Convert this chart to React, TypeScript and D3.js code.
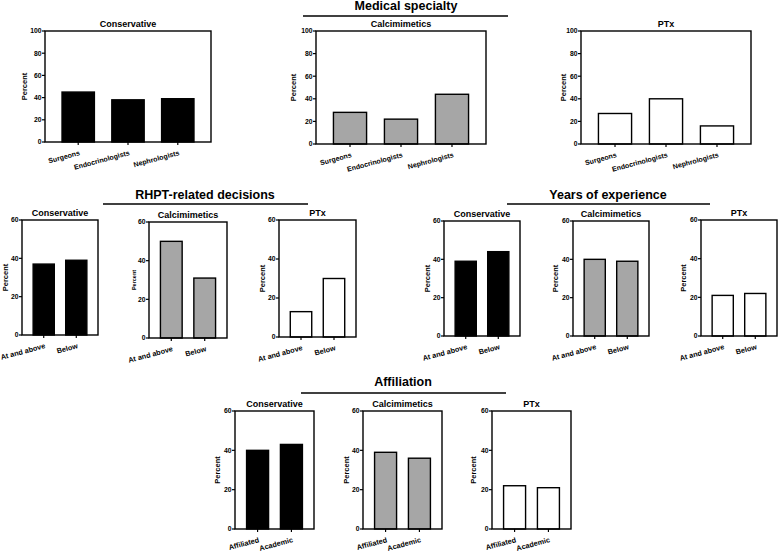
import React from "react";
import * as d3 from "d3";

// ---- data ----
const specialtyCats = ["Surgeons", "Endocrinologists", "Nephrologists"];
const specConservative = [45, 38, 39];
const specCalcimimetics = [28, 22, 44];
const specPTx = [27, 40, 16];

const rhptCats = ["At and above", "Below"];
const rhptConservative = [37, 39];
const rhptCalcimimetics = [50, 31];
const rhptPTx = [13, 30];

const yearsCats = ["At and above", "Below"];
const yearsConservative = [39, 44];
const yearsCalcimimetics = [40, 39];
const yearsPTx = [21, 22];

const affCats = ["Affiliated", "Academic"];
const affConservative = [40, 43];
const affCalcimimetics = [39, 36];
const affPTx = [22, 21];

const ticks100 = [0, 20, 40, 60, 80, 100];
const ticks60 = [0, 20, 40, 60];

const FONT = "'Liberation Sans', Arial, Helvetica, sans-serif";
const GREY = "#a6a6a6";

type Panel = {
  title: string;
  cats: string[];
  values: number[];
  fill: string;
  x0: number;
  x1: number;
  y0: number;
  y1: number;
  ticks: number[];
  percentDx: number;
  percentSize?: number;
  labelSize?: number;
};

const panels: Panel[] = [
  { title: "Conservative", cats: specialtyCats, values: specConservative, fill: "#000", x0: 45, x1: 211, y0: 31, y1: 142, ticks: ticks100, percentDx: -21 },
  { title: "Calcimimetics", cats: specialtyCats, values: specCalcimimetics, fill: GREY, x0: 316, x1: 486, y0: 31, y1: 144, ticks: ticks100, percentDx: -23 },
  { title: "PTx", cats: specialtyCats, values: specPTx, fill: "#fff", x0: 581, x1: 751, y0: 31, y1: 144, ticks: ticks100, percentDx: -18 },

  { title: "Conservative", cats: rhptCats, values: rhptConservative, fill: "#000", x0: 22, x1: 98, y0: 220, y1: 335, ticks: ticks60, percentDx: -17, labelSize: 7.3 },
  { title: "Calcimimetics", cats: rhptCats, values: rhptCalcimimetics, fill: GREY, x0: 149, x1: 227, y0: 222, y1: 338, ticks: ticks60, percentDx: -16, percentSize: 5.5, labelSize: 7.3 },
  { title: "PTx", cats: rhptCats, values: rhptPTx, fill: "#fff", x0: 279, x1: 356, y0: 220, y1: 337, ticks: ticks60, percentDx: -17, labelSize: 7.3 },

  { title: "Conservative", cats: yearsCats, values: yearsConservative, fill: "#000", x0: 444, x1: 520, y0: 221, y1: 336, ticks: ticks60, percentDx: -17, labelSize: 7.3 },
  { title: "Calcimimetics", cats: yearsCats, values: yearsCalcimimetics, fill: GREY, x0: 573, x1: 649, y0: 221, y1: 336, ticks: ticks60, percentDx: -18, labelSize: 7.3 },
  { title: "PTx", cats: yearsCats, values: yearsPTx, fill: "#fff", x0: 701, x1: 777, y0: 220, y1: 336, ticks: ticks60, percentDx: -18, labelSize: 7.3 },

  { title: "Conservative", cats: affCats, values: affConservative, fill: "#000", x0: 235, x1: 314, y0: 411, y1: 529, ticks: ticks60, percentDx: -18, labelSize: 7.3 },
  { title: "Calcimimetics", cats: affCats, values: affCalcimimetics, fill: GREY, x0: 363, x1: 442, y0: 411, y1: 529, ticks: ticks60, percentDx: -17, labelSize: 7.3 },
  { title: "PTx", cats: affCats, values: affPTx, fill: "#fff", x0: 492, x1: 571, y0: 411, y1: 529, ticks: ticks60, percentDx: -19, labelSize: 7.3 },
];

const sections = [
  { title: "Medical specialty", cx: 406, ty: 10, lx0: 303, lx1: 508, ly: 16 },
  { title: "RHPT-related decisions", cx: 205, ty: 199, lx0: 103, lx1: 308, ly: 204 },
  { title: "Years of experience", cx: 608, ty: 199, lx0: 507, lx1: 710, ly: 204 },
  { title: "Affiliation", cx: 403, ty: 386, lx0: 301, lx1: 506, ly: 393 },
];

function BarPanel({ p }: { p: Panel }) {
  const x = d3.scalePoint<string>().domain(p.cats).range([p.x0, p.x1]).padding(0.667);
  const ymax = p.ticks[p.ticks.length - 1];
  const y = d3.scaleLinear().domain([0, ymax]).range([p.y1, p.y0]);
  const step = x.step();
  const bw = step * 0.65;
  const cy = (p.y0 + p.y1) / 2;
  return (
    <g>
      <text x={(p.x0 + p.x1) / 2} y={p.y0 - 4} textAnchor="middle" fontSize={9} fontWeight="bold" fill="#000">
        {p.title}
      </text>
      {p.cats.map((c, i) => {
        const top = y(p.values[i]);
        return (
          <rect
            key={c}
            x={(x(c) as number) - bw / 2}
            y={top}
            width={bw}
            height={p.y1 - top}
            fill={p.fill}
            stroke="#000"
            strokeWidth={1.4}
          />
        );
      })}
      <rect x={p.x0} y={p.y0} width={p.x1 - p.x0} height={p.y1 - p.y0} fill="none" stroke="#000" strokeWidth={1.4} />
      {p.ticks.map((t) => (
        <g key={t}>
          <line x1={p.x0 - 3} x2={p.x0} y1={y(t)} y2={y(t)} stroke="#000" strokeWidth={1.2} />
          <text x={p.x0 - 3.5} y={y(t) + 2.4} textAnchor="end" fontSize={6.8} fontWeight="bold" fill="#000">
            {t}
          </text>
        </g>
      ))}
      {p.cats.map((c) => {
        const cx = x(c) as number;
        return (
          <g key={c}>
            <line x1={cx} x2={cx} y1={p.y1} y2={p.y1 + 3} stroke="#000" strokeWidth={1.2} />
            <text
              transform={`translate(${cx + 2},${p.y1 + 13}) rotate(-15)`}
              textAnchor="end"
              fontSize={p.labelSize ?? 7}
              fontWeight="bold"
              fill="#000"
            >
              {c}
            </text>
          </g>
        );
      })}
      <text
        transform={`translate(${p.x0 + p.percentDx + 2.5},${cy}) rotate(-90)`}
        textAnchor="middle"
        fontSize={p.percentSize ?? 7.5}
        fontWeight="bold"
        fill="#000"
      >
        Percent
      </text>
    </g>
  );
}

export default function App() {
  return (
    <svg
      width={778}
      height={553}
      style={{ position: "absolute", left: 0, top: 0, background: "#fff" }}
      fontFamily={FONT}
    >
      <rect x={0} y={0} width={778} height={553} fill="#fff" />
      {sections.map((s) => (
        <g key={s.title}>
          <text x={s.cx} y={s.ty} textAnchor="middle" fontSize={12.5} fontWeight="bold" fill="#000">
            {s.title}
          </text>
          <line x1={s.lx0} x2={s.lx1} y1={s.ly} y2={s.ly} stroke="#000" strokeWidth={1.4} />
        </g>
      ))}
      {panels.map((p, i) => (
        <BarPanel key={i} p={p} />
      ))}
    </svg>
  );
}
